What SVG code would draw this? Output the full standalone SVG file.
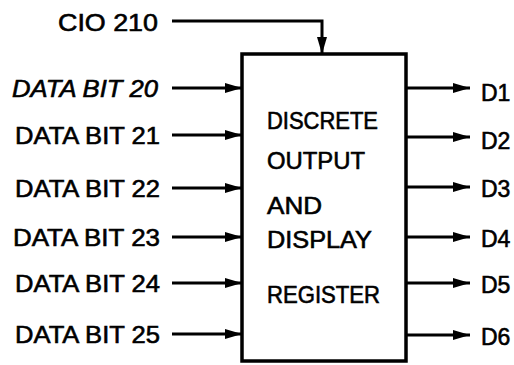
<svg xmlns="http://www.w3.org/2000/svg" width="514" height="365" viewBox="0 0 514 365">
<defs>
<marker id="ah" markerUnits="userSpaceOnUse" markerWidth="17" markerHeight="11" refX="17" refY="5.5" orient="auto">
<path d="M0,0.5 L17,5.5 L0,10.5 Z" fill="#000"/>
</marker>
<style>
text{font-family:"Liberation Sans","DejaVu Sans",sans-serif;fill:#000;stroke:#000;stroke-width:0.6;}
.lbl{font-size:24px;text-anchor:end;}
.out{font-size:23px;}
.box{font-size:24px;}
.ln{stroke:#000;stroke-width:3;fill:none;}
</style>
</defs>
<rect width="514" height="365" fill="#fff"/>
<g id="register">
<rect x="242" y="54" width="164" height="307" fill="#fff" stroke="#000" stroke-width="3.5"/>
<text class="box" x="267" y="129" textLength="111" lengthAdjust="spacingAndGlyphs">DISCRETE</text>
<text class="box" x="267" y="169" textLength="98" lengthAdjust="spacingAndGlyphs">OUTPUT</text>
<text class="box" x="267" y="214" textLength="55" lengthAdjust="spacingAndGlyphs">AND</text>
<text class="box" x="267" y="248" textLength="105" lengthAdjust="spacingAndGlyphs">DISPLAY</text>
<text class="box" x="267" y="303" textLength="113" lengthAdjust="spacingAndGlyphs">REGISTER</text>
</g>
<g id="inputs">
<text class="lbl" x="158" y="31" textLength="100" lengthAdjust="spacingAndGlyphs">CIO 210</text>
<text class="lbl" x="158" y="97" textLength="146" lengthAdjust="spacingAndGlyphs" font-style="italic">DATA BIT 20</text>
<text class="lbl" x="160" y="144" textLength="145" lengthAdjust="spacingAndGlyphs">DATA BIT 21</text>
<text class="lbl" x="160" y="197" textLength="145" lengthAdjust="spacingAndGlyphs">DATA BIT 22</text>
<text class="lbl" x="160" y="246" textLength="147" lengthAdjust="spacingAndGlyphs">DATA BIT 23</text>
<text class="lbl" x="160" y="292" textLength="145" lengthAdjust="spacingAndGlyphs">DATA BIT 24</text>
<text class="lbl" x="160" y="343" textLength="145" lengthAdjust="spacingAndGlyphs">DATA BIT 25</text>
</g>
<g id="outputs">
<text class="out" x="481" y="101">D1</text>
<text class="out" x="481" y="149">D2</text>
<text class="out" x="481" y="197">D3</text>
<text class="out" x="481" y="247">D4</text>
<text class="out" x="481" y="293">D5</text>
<text class="out" x="481" y="345">D6</text>
</g>
<g id="connectors">
<path class="ln" d="M172,21 H322 V54" marker-end="url(#ah)"/>
<path class="ln" d="M172,88 H242" marker-end="url(#ah)"/>
<path class="ln" d="M172,135 H242" marker-end="url(#ah)"/>
<path class="ln" d="M172,188 H242" marker-end="url(#ah)"/>
<path class="ln" d="M172,237 H242" marker-end="url(#ah)"/>
<path class="ln" d="M172,283 H242" marker-end="url(#ah)"/>
<path class="ln" d="M172,334 H242" marker-end="url(#ah)"/>
<path class="ln" d="M406,88 H470" marker-end="url(#ah)"/>
<path class="ln" d="M406,137 H470" marker-end="url(#ah)"/>
<path class="ln" d="M406,187 H470" marker-end="url(#ah)"/>
<path class="ln" d="M406,237 H470" marker-end="url(#ah)"/>
<path class="ln" d="M406,283 H470" marker-end="url(#ah)"/>
<path class="ln" d="M406,335 H470" marker-end="url(#ah)"/>
</g>
</svg>
